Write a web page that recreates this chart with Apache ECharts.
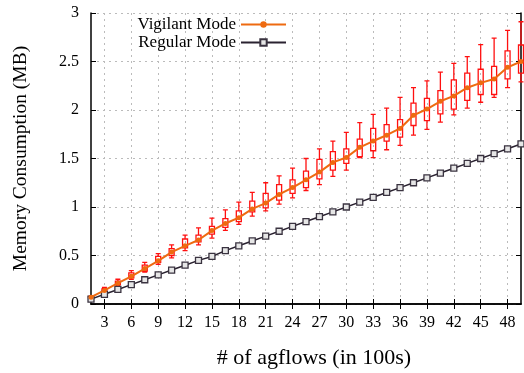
<!DOCTYPE html>
<html>
<head>
<meta charset="utf-8">
<script src="https://cdn.jsdelivr.net/npm/echarts@6/dist/echarts.min.js"></script>
<style>
  html, body { margin: 0; padding: 0; background: #fff; }
  #chart { width: 524px; height: 373px; }
</style>
</head>
<body>
<div id="chart"></div>
<script>
// x positions (in 100s of agflows)
const agflows = ['1.5', '3', '4.5', '6', '7.5', '9', '10.5', '12', '13.5', '15', '16.5',
  '18', '19.5', '21', '22.5', '24', '25.5', '27', '28.5', '30', '31.5', '33',
  '34.5', '36', '37.5', '39', '40.5', '42', '43.5', '45', '46.5', '48', '49.5']

const vigilant = [0.07, 0.14, 0.215, 0.285, 0.365, 0.445, 0.535, 0.60, 0.66, 0.757, 0.83,
  0.89, 0.98, 1.04, 1.13, 1.20, 1.28, 1.36, 1.46, 1.51, 1.615, 1.68,
  1.74, 1.81, 1.945, 2.01, 2.09, 2.145, 2.23, 2.28, 2.32, 2.44, 2.50]

const regular = [0.05, 0.10, 0.15, 0.20, 0.25, 0.30, 0.35, 0.40, 0.45, 0.49, 0.55,
  0.60, 0.65, 0.70, 0.75, 0.80, 0.85, 0.90, 0.95, 1.00, 1.05, 1.10,
  1.15, 1.20, 1.25, 1.30, 1.35, 1.40, 1.45, 1.50, 1.55, 1.60, 1.65]

// vigilant mode spread
const whiskerLow = [0.06, 0.12, 0.19, 0.254, 0.33, 0.41, 0.475, 0.55, 0.61, 0.68, 0.76,
  0.82, 0.905, 0.96, 1.03, 1.095, 1.17, 1.23, 1.315, 1.38, 1.51, 1.51,
  1.59, 1.635, 1.74, 1.80, 1.875, 1.95, 2.02, 2.08, 2.13, 2.23, 2.29]
const boxLow = [0.065, 0.13, 0.20, 0.27, 0.34, 0.43, 0.50, 0.58, 0.64, 0.72, 0.79,
  0.85, 0.95, 0.99, 1.07, 1.14, 1.20, 1.29, 1.38, 1.45, 1.52, 1.58,
  1.68, 1.72, 1.84, 1.89, 1.96, 2.01, 2.10, 2.16, 2.16, 2.32, 2.38]
const boxHigh = [0.075, 0.155, 0.235, 0.32, 0.40, 0.49, 0.57, 0.67, 0.71, 0.80, 0.88,
  0.96, 1.06, 1.14, 1.23, 1.28, 1.37, 1.49, 1.57, 1.60, 1.70, 1.81,
  1.85, 1.90, 2.07, 2.12, 2.20, 2.31, 2.38, 2.42, 2.45, 2.61, 2.67]
const whiskerHigh = [0.08, 0.17, 0.255, 0.344, 0.43, 0.52, 0.61, 0.71, 0.785, 0.885, 0.97,
  1.05, 1.15, 1.25, 1.32, 1.40, 1.50, 1.60, 1.68, 1.77, 1.87, 1.955,
  2.02, 2.13, 2.23, 2.30, 2.39, 2.48, 2.55, 2.675, 2.74, 2.82, 2.91]

const boxData = agflows.map((c, i) => [whiskerLow[i], boxLow[i], vigilant[i], boxHigh[i], whiskerHigh[i]])

const serif = '"Liberation Serif", "DejaVu Serif", serif'
const showEveryOther = (index) => index % 2 === 1

const chart = echarts.init(document.getElementById('chart'))

chart.setOption({
  animation: false,
  textStyle: { fontFamily: serif },
  grid: { left: 91, right: 3, top: 13, bottom: 69, outerBoundsMode: 'none' },
  legend: [
    {
      right: 232,
      top: 11,
      align: 'right',
      itemWidth: 45,
      itemHeight: 8,
      textStyle: { fontFamily: serif, fontSize: 17, color: '#000' },
      data: ['Vigilant Mode']
    },
    {
      right: 232,
      top: 29,
      align: 'right',
      itemWidth: 45,
      itemHeight: 8,
      textStyle: { fontFamily: serif, fontSize: 17, color: '#000' },
      data: ['Regular Mode']
    }
  ],
  xAxis: [
    {
      type: 'category',
      data: agflows,
      boundaryGap: false,
      name: '# of agflows (in 100s)',
      nameLocation: 'middle',
      nameGap: 43,
      nameTextStyle: { fontFamily: serif, fontSize: 22, color: '#000', padding: [0, 0, 0, 16] },
      axisLine: { lineStyle: { color: '#000', width: 1.5 } },
      axisTick: { inside: true, length: 5, interval: showEveryOther, lineStyle: { color: '#000' } },
      axisLabel: { interval: showEveryOther, fontFamily: serif, fontSize: 16, color: '#000', margin: 11 },
      splitLine: { show: true, interval: showEveryOther, lineStyle: { color: '#bbb', type: [2, 4] } }
    },
    {
      type: 'category',
      data: agflows,
      boundaryGap: false,
      position: 'top',
      axisLine: { lineStyle: { color: '#000', width: 1.5 } },
      axisTick: { inside: true, length: 5, interval: showEveryOther, lineStyle: { color: '#000' } },
      axisLabel: { show: false },
      splitLine: { show: false }
    }
  ],
  yAxis: [
    {
      type: 'value',
      min: 0,
      max: 3,
      interval: 0.5,
      name: 'Memory Consumption (MB)',
      nameLocation: 'middle',
      nameGap: 54,
      nameTextStyle: { fontFamily: serif, fontSize: 19.5, color: '#000', padding: [0, 0, 6, 0] },
      axisLine: { show: true, lineStyle: { color: '#000', width: 1.5 } },
      axisTick: { show: true, inside: true, length: 5, lineStyle: { color: '#000' } },
      axisLabel: { fontFamily: serif, fontSize: 16, color: '#000', margin: 12 },
      splitLine: { show: true, lineStyle: { color: '#bbb', type: [2, 4] } }
    },
    {
      type: 'value',
      min: 0,
      max: 3,
      interval: 0.5,
      position: 'right',
      axisLine: { show: true, lineStyle: { color: '#000', width: 1.5 } },
      axisTick: { show: true, inside: true, length: 5, lineStyle: { color: '#000' } },
      axisLabel: { show: false },
      splitLine: { show: false }
    }
  ],
  series: [
    {
      name: 'spread',
      type: 'boxplot',
      data: boxData,
      boxWidth: [4, 5],
      itemStyle: { color: 'rgba(255,255,255,0)', borderColor: '#ff1010', borderWidth: 1.3 },
      z: 2
    },
    {
      name: 'Vigilant Mode',
      type: 'line',
      data: vigilant,
      symbol: 'circle',
      symbolSize: 5,
      lineStyle: { color: '#ee6a10', width: 2 },
      itemStyle: { color: '#ee6a10' },
      z: 4
    },
    {
      name: 'Regular Mode',
      type: 'line',
      data: regular,
      symbol: 'rect',
      symbolSize: 6,
      lineStyle: { color: '#2a2230', width: 1.5 },
      itemStyle: { color: '#e6e6e6', borderColor: '#3a3340', borderWidth: 1.3 },
      z: 3
    }
  ]
})
</script>
</body>
</html>
